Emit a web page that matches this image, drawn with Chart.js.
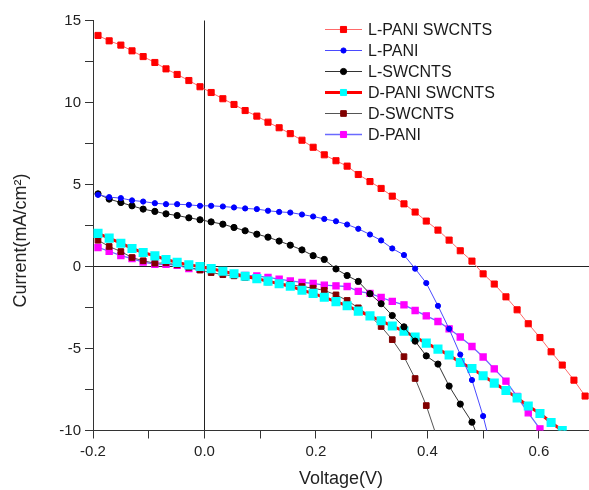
<!DOCTYPE html>
<html>
<head>
<meta charset="utf-8">
<title>J-V curves</title>
<script src="https://cdn.jsdelivr.net/npm/chart.js@4/dist/chart.umd.min.js"></script>
<style>
  html, body { margin: 0; padding: 0; background: #fff; }
  #wrap { width: 589px; height: 490px; position: relative; }
</style>
</head>
<body>
<div id="wrap"><canvas id="jv"></canvas></div>
<script>
// voltage steps shared by all six curves (V)
const voltage = [-0.191, -0.171, -0.150, -0.130, -0.110, -0.089, -0.069, -0.049, -0.028, -0.008,
    0.012, 0.033, 0.053, 0.073, 0.094, 0.114, 0.134, 0.154, 0.175, 0.195,
    0.215, 0.236, 0.256, 0.276, 0.297, 0.317, 0.337, 0.358, 0.378, 0.398,
    0.419, 0.439, 0.459, 0.480, 0.500, 0.520, 0.541, 0.561, 0.581, 0.602,
    0.622, 0.642, 0.663, 0.683];

// current densities (mA/cm2)
const lPaniSwcnts = [14.09, 13.76, 13.50, 13.15, 12.80, 12.44, 12.05, 11.71, 11.34, 10.96,
    10.61, 10.23, 9.88, 9.51, 9.17, 8.80, 8.46, 8.10, 7.70, 7.27,
    6.81, 6.45, 6.12, 5.61, 5.18, 4.76, 4.29, 3.82, 3.32, 2.77,
    2.22, 1.61, 0.96, 0.33, -0.45, -1.07, -1.85, -2.64, -3.49, -4.33,
    -5.20, -6.01, -6.93, -7.90];
const lPani = [4.37, 4.23, 4.17, 4.03, 3.96, 3.86, 3.80, 3.80, 3.76, 3.70,
    3.70, 3.66, 3.60, 3.54, 3.50, 3.40, 3.33, 3.29, 3.17, 3.05,
    2.90, 2.76, 2.56, 2.30, 1.95, 1.59, 1.10, 0.70, -0.13, -1.01,
    -2.40, -3.80, -5.37, -6.92, -9.12, -11.8];
const lSwcnts = [4.43, 4.11, 3.90, 3.70, 3.50, 3.36, 3.21, 3.11, 2.97, 2.85,
    2.72, 2.58, 2.38, 2.18, 1.97, 1.79, 1.55, 1.30, 1.01, 0.66,
    0.43, -0.15, -0.55, -0.91, -1.66, -2.27, -2.99, -3.68, -4.55, -5.45,
    -5.95, -7.29, -8.39, -9.49, -11.2];
const dPaniSwcnts = [2.02, 1.73, 1.42, 1.10, 0.85, 0.65, 0.43, 0.25, 0.10, 0.0,
    -0.13, -0.29, -0.44, -0.59, -0.74, -0.89, -1.05, -1.20, -1.45, -1.64,
    -1.88, -2.14, -2.39, -2.72, -3.01, -3.31, -3.63, -3.94, -4.30, -4.67,
    -5.04, -5.40, -5.85, -6.22, -6.66, -7.11, -7.56, -8.01, -8.51, -8.96,
    -9.51, -10.0];
const dSwcnts = [1.60, 1.22, 0.91, 0.55, 0.35, 0.20, 0.22, 0.10, -0.05, -0.22,
    -0.37, -0.50, -0.57, -0.67, -0.80, -0.94, -1.05, -1.10, -1.22, -1.32,
    -1.46, -1.73, -2.07, -2.52, -3.01, -3.66, -4.46, -5.50, -6.83, -8.48,
    -10.6];
const dPani = [1.16, 0.93, 0.66, 0.48, 0.27, 0.14, 0.13, 0.08, -0.12, -0.17,
    -0.10, -0.37, -0.45, -0.55, -0.58, -0.66, -0.77, -0.88, -0.97, -1.03,
    -1.14, -1.18, -1.22, -1.52, -1.64, -1.89, -2.13, -2.34, -2.68, -3.01,
    -3.35, -3.80, -4.30, -4.88, -5.52, -6.24, -6.99, -7.93, -8.92, -9.90];

const seriesNames = ['L-PANI SWCNTS', 'L-PANI', 'L-SWCNTS', 'D-PANI SWCNTS', 'D-SWCNTS', 'D-PANI'];
const xMajorTicks = [-0.2, 0.0, 0.2, 0.4, 0.6];
const yMajorTicks = [-10, -5, 0, 5, 10, 15];

const FONT = "'Liberation Sans', Arial, sans-serif";

function pts(values) {
    return values.map((v, i) => ({ x: voltage[i], y: v }));
}

function isMajor(list, v) {
    return list.some(m => Math.abs(m - v) < 1e-6);
}

// hand-drawn legend in the upper right of the plot
const legendBox = {
    id: 'legendBox',
    afterDraw(chart) {
        const ctx = chart.ctx;
        const h = Chart.helpers;
        ctx.save();
        chart.data.datasets.forEach((ds, k) => {
            const y = 29.5 + k * 21;
            ctx.strokeStyle = ds.borderColor;
            ctx.lineWidth = ds.borderWidth;
            ctx.beginPath();
            ctx.moveTo(325, y);
            ctx.lineTo(362, y);
            ctx.stroke();
            ctx.fillStyle = ds.pointBackgroundColor;
            ctx.strokeStyle = ds.pointBorderColor;
            ctx.lineWidth = 1;
            if (h && h.drawPoint) {
                h.drawPoint(ctx, { pointStyle: ds.pointStyle, radius: ds.pointRadius, rotation: 0, borderWidth: 1 }, 343.5, y);
            } else {
                ctx.fillRect(340, y - 3, 6, 6);
            }
            ctx.fillStyle = '#1a1a1a';
            ctx.font = '16px ' + FONT;
            ctx.textBaseline = 'middle';
            ctx.textAlign = 'left';
            ctx.fillText(ds.label, 368, y + 1);
        });
        ctx.restore();
    }
};

const datasets = [
    { label: seriesNames[0], data: pts(lPaniSwcnts), borderColor: '#ff6a6a', borderWidth: 1,
      pointStyle: 'rect', pointRadius: 4.3, pointBackgroundColor: '#ff0000', pointBorderColor: '#ff0000' },
    { label: seriesNames[1], data: pts(lPani), borderColor: '#4a4aff', borderWidth: 1,
      pointStyle: 'circle', pointRadius: 2.6, pointBackgroundColor: '#0000ff', pointBorderColor: '#0000ff' },
    { label: seriesNames[2], data: pts(lSwcnts), borderColor: '#333333', borderWidth: 1,
      pointStyle: 'circle', pointRadius: 3.1, pointBackgroundColor: '#000000', pointBorderColor: '#000000' },
    { label: seriesNames[3], data: pts(dPaniSwcnts), borderColor: '#ff0000', borderWidth: 3,
      pointStyle: 'rect', pointRadius: 4.3, pointBackgroundColor: '#00ffff', pointBorderColor: '#00ffff' },
    { label: seriesNames[4], data: pts(dSwcnts), borderColor: '#555555', borderWidth: 1,
      pointStyle: 'rect', pointRadius: 4.0, pointBackgroundColor: '#800000', pointBorderColor: '#800000' },
    { label: seriesNames[5], data: pts(dPani), borderColor: '#6a6aff', borderWidth: 1.3,
      pointStyle: 'rect', pointRadius: 4.3, pointBackgroundColor: '#ff00ff', pointBorderColor: '#ff00ff' }
];

const zeroLine = c => (c.tick && Math.abs(c.tick.value) < 1e-9) ? '#222222' : 'rgba(0,0,0,0)';

new Chart(document.getElementById('jv'), {
    type: 'line',
    data: { datasets: datasets },
    options: {
        responsive: true,
        maintainAspectRatio: false,
        animation: false,
        layout: { autoPadding: false, padding: { top: 20.5, right: 0, bottom: 0, left: 0 } },
        elements: { line: { tension: 0 } },
        plugins: {
            legend: { display: false },
            tooltip: { enabled: false }
        },
        scales: {
            x: {
                type: 'linear',
                min: -0.2,
                max: 0.69,
                afterFit: s => { s.height = 59.5; },
                border: { display: true, color: '#333333', width: 1 },
                grid: { color: zeroLine, lineWidth: 1, tickColor: '#333333', tickLength: 8, drawTicks: true },
                ticks: {
                    stepSize: 0.1,
                    includeBounds: false,
                    autoSkip: false,
                    maxRotation: 0,
                    padding: 4,
                    color: '#222222',
                    font: { family: FONT, size: 15 },
                    callback: v => isMajor(xMajorTicks, v) ? v.toFixed(1) : ''
                },
                title: {
                    display: true,
                    text: 'Voltage(V)',
                    color: '#222222',
                    font: { family: FONT, size: 18 },
                    padding: { top: 0, bottom: 0 }
                }
            },
            y: {
                type: 'linear',
                min: -10,
                max: 15,
                afterFit: s => { s.width = 93; },
                border: { display: true, color: '#333333', width: 1 },
                grid: { color: zeroLine, lineWidth: 1, tickColor: '#333333', tickLength: 8, drawTicks: true },
                ticks: {
                    stepSize: 2.5,
                    autoSkip: false,
                    padding: 4,
                    color: '#222222',
                    font: { family: FONT, size: 15 },
                    callback: v => isMajor(yMajorTicks, v) ? String(v) : ''
                },
                title: {
                    display: true,
                    // trailing spaces push the visible text a little lower, as in the figure
                    text: 'Current(mA/cm\u00B2)      ',
                    color: '#222222',
                    font: { family: FONT, size: 18 },
                    padding: { top: 10, bottom: 0 }
                }
            }
        }
    },
    plugins: [legendBox]
});
</script>
</body>
</html>
